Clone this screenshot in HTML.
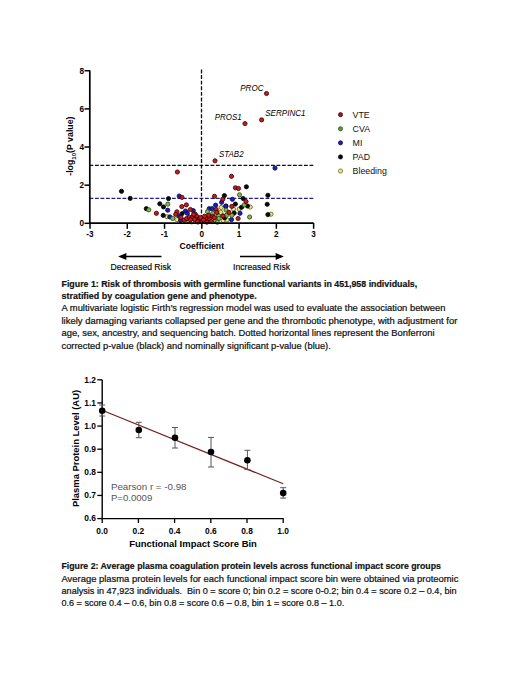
<!DOCTYPE html>
<html><head><meta charset="utf-8"><style>
html,body{margin:0;padding:0;background:#fff;width:520px;height:673px;overflow:hidden;}
svg{display:block;font-family:"Liberation Sans",sans-serif;}
</style></head><body>
<svg width="520" height="673" viewBox="0 0 520 673">
<line x1="89.5" y1="165.4" x2="313.6" y2="165.4" stroke="#111" stroke-width="1.4" stroke-dasharray="3.8 1.7"/>
<line x1="89.5" y1="198.4" x2="313.6" y2="198.4" stroke="#1e1e9a" stroke-width="1.4" stroke-dasharray="3.8 1.7"/>
<line x1="201.5" y1="69.5" x2="201.5" y2="223" stroke="#111" stroke-width="1.3" stroke-dasharray="3.9 1.7"/>
<circle cx="271.0" cy="214.2" r="2.1" fill="#eaea7c" stroke="#5a5a18" stroke-width="0.8"/>
<circle cx="250.2" cy="207.0" r="2.1" fill="#eaea7c" stroke="#5a5a18" stroke-width="0.8"/>
<circle cx="167.1" cy="216.7" r="2.1" fill="#eaea7c" stroke="#5a5a18" stroke-width="0.8"/>
<circle cx="233.5" cy="209.2" r="2.1" fill="#eaea7c" stroke="#5a5a18" stroke-width="0.8"/>
<circle cx="239.2" cy="209.2" r="2.1" fill="#eaea7c" stroke="#5a5a18" stroke-width="0.8"/>
<circle cx="176.9" cy="219.6" r="2.1" fill="#eaea7c" stroke="#5a5a18" stroke-width="0.8"/>
<circle cx="191.6" cy="221.9" r="2.1" fill="#eaea7c" stroke="#5a5a18" stroke-width="0.8"/>
<circle cx="221.1" cy="207.5" r="2.1" fill="#eaea7c" stroke="#5a5a18" stroke-width="0.8"/>
<circle cx="220.8" cy="212.4" r="2.1" fill="#eaea7c" stroke="#5a5a18" stroke-width="0.8"/>
<circle cx="227.1" cy="219.9" r="2.1" fill="#eaea7c" stroke="#5a5a18" stroke-width="0.8"/>
<circle cx="223.1" cy="220.5" r="2.1" fill="#eaea7c" stroke="#5a5a18" stroke-width="0.8"/>
<circle cx="246.4" cy="186.8" r="2.1" fill="#0a0a0a" stroke="#000000" stroke-width="0.8"/>
<circle cx="121.5" cy="191.3" r="2.1" fill="#0a0a0a" stroke="#000000" stroke-width="0.8"/>
<circle cx="130.2" cy="198.4" r="2.1" fill="#0a0a0a" stroke="#000000" stroke-width="0.8"/>
<circle cx="168.5" cy="198.6" r="2.1" fill="#0a0a0a" stroke="#000000" stroke-width="0.8"/>
<circle cx="224.4" cy="195.6" r="2.1" fill="#0a0a0a" stroke="#000000" stroke-width="0.8"/>
<circle cx="243.1" cy="198.5" r="2.1" fill="#0a0a0a" stroke="#000000" stroke-width="0.8"/>
<circle cx="267.9" cy="195.3" r="2.1" fill="#0a0a0a" stroke="#000000" stroke-width="0.8"/>
<circle cx="267.2" cy="204.3" r="2.1" fill="#0a0a0a" stroke="#000000" stroke-width="0.8"/>
<circle cx="267.9" cy="214.6" r="2.1" fill="#0a0a0a" stroke="#000000" stroke-width="0.8"/>
<circle cx="247.5" cy="206.0" r="2.1" fill="#0a0a0a" stroke="#000000" stroke-width="0.8"/>
<circle cx="146.3" cy="208.7" r="2.1" fill="#0a0a0a" stroke="#000000" stroke-width="0.8"/>
<circle cx="159.8" cy="203.8" r="2.1" fill="#0a0a0a" stroke="#000000" stroke-width="0.8"/>
<circle cx="163.5" cy="206.9" r="2.1" fill="#0a0a0a" stroke="#000000" stroke-width="0.8"/>
<circle cx="163.2" cy="215.4" r="2.1" fill="#0a0a0a" stroke="#000000" stroke-width="0.8"/>
<circle cx="235.4" cy="204.1" r="2.1" fill="#0a0a0a" stroke="#000000" stroke-width="0.8"/>
<circle cx="241.5" cy="207.3" r="2.1" fill="#0a0a0a" stroke="#000000" stroke-width="0.8"/>
<circle cx="234.2" cy="213.1" r="2.1" fill="#0a0a0a" stroke="#000000" stroke-width="0.8"/>
<circle cx="182.1" cy="213.6" r="2.1" fill="#0a0a0a" stroke="#000000" stroke-width="0.8"/>
<circle cx="226.0" cy="206.1" r="2.1" fill="#0a0a0a" stroke="#000000" stroke-width="0.8"/>
<circle cx="224.6" cy="217.8" r="2.1" fill="#0a0a0a" stroke="#000000" stroke-width="0.8"/>
<circle cx="275.0" cy="168.1" r="2.1" fill="#1c1cc8" stroke="#05053a" stroke-width="0.8"/>
<circle cx="179.2" cy="196.0" r="2.1" fill="#1c1cc8" stroke="#05053a" stroke-width="0.8"/>
<circle cx="232.4" cy="199.3" r="2.1" fill="#1c1cc8" stroke="#05053a" stroke-width="0.8"/>
<circle cx="167.7" cy="210.2" r="2.1" fill="#1c1cc8" stroke="#05053a" stroke-width="0.8"/>
<circle cx="169.8" cy="216.9" r="2.1" fill="#1c1cc8" stroke="#05053a" stroke-width="0.8"/>
<circle cx="240.0" cy="213.3" r="2.1" fill="#1c1cc8" stroke="#05053a" stroke-width="0.8"/>
<circle cx="231.5" cy="219.6" r="2.1" fill="#1c1cc8" stroke="#05053a" stroke-width="0.8"/>
<circle cx="185.5" cy="211.0" r="2.1" fill="#1c1cc8" stroke="#05053a" stroke-width="0.8"/>
<circle cx="187.3" cy="213.3" r="2.1" fill="#1c1cc8" stroke="#05053a" stroke-width="0.8"/>
<circle cx="193.3" cy="210.7" r="2.1" fill="#1c1cc8" stroke="#05053a" stroke-width="0.8"/>
<circle cx="179.2" cy="215.9" r="2.1" fill="#1c1cc8" stroke="#05053a" stroke-width="0.8"/>
<circle cx="180.6" cy="220.5" r="2.1" fill="#1c1cc8" stroke="#05053a" stroke-width="0.8"/>
<circle cx="221.6" cy="202.3" r="2.1" fill="#1c1cc8" stroke="#05053a" stroke-width="0.8"/>
<circle cx="215.6" cy="205.2" r="2.1" fill="#1c1cc8" stroke="#05053a" stroke-width="0.8"/>
<circle cx="209.2" cy="208.7" r="2.1" fill="#1c1cc8" stroke="#05053a" stroke-width="0.8"/>
<circle cx="212.1" cy="208.7" r="2.1" fill="#1c1cc8" stroke="#05053a" stroke-width="0.8"/>
<circle cx="225.7" cy="206.2" r="2.1" fill="#1c1cc8" stroke="#05053a" stroke-width="0.8"/>
<circle cx="239.5" cy="194.8" r="2.1" fill="#80bc44" stroke="#2a4010" stroke-width="0.8"/>
<circle cx="249.6" cy="217.0" r="2.1" fill="#80bc44" stroke="#2a4010" stroke-width="0.8"/>
<circle cx="148.8" cy="209.8" r="2.1" fill="#80bc44" stroke="#2a4010" stroke-width="0.8"/>
<circle cx="167.8" cy="204.1" r="2.1" fill="#80bc44" stroke="#2a4010" stroke-width="0.8"/>
<circle cx="172.7" cy="218.5" r="2.1" fill="#80bc44" stroke="#2a4010" stroke-width="0.8"/>
<circle cx="244.2" cy="205.0" r="2.1" fill="#80bc44" stroke="#2a4010" stroke-width="0.8"/>
<circle cx="231.9" cy="215.4" r="2.1" fill="#80bc44" stroke="#2a4010" stroke-width="0.8"/>
<circle cx="188.7" cy="221.4" r="2.1" fill="#80bc44" stroke="#2a4010" stroke-width="0.8"/>
<circle cx="226.0" cy="210.1" r="2.1" fill="#80bc44" stroke="#2a4010" stroke-width="0.8"/>
<circle cx="207.5" cy="211.6" r="2.1" fill="#80bc44" stroke="#2a4010" stroke-width="0.8"/>
<circle cx="218.5" cy="215.9" r="2.1" fill="#80bc44" stroke="#2a4010" stroke-width="0.8"/>
<circle cx="219.0" cy="218.5" r="2.1" fill="#80bc44" stroke="#2a4010" stroke-width="0.8"/>
<circle cx="226.5" cy="215.3" r="2.1" fill="#80bc44" stroke="#2a4010" stroke-width="0.8"/>
<circle cx="215.3" cy="220.5" r="2.1" fill="#80bc44" stroke="#2a4010" stroke-width="0.8"/>
<circle cx="217.3" cy="222.2" r="2.1" fill="#80bc44" stroke="#2a4010" stroke-width="0.8"/>
<circle cx="212.8" cy="213.4" r="2.1" fill="#80bc44" stroke="#2a4010" stroke-width="0.8"/>
<circle cx="266.5" cy="93.5" r="2.1" fill="#d01818" stroke="#2a0000" stroke-width="0.8"/>
<circle cx="245.0" cy="123.6" r="2.1" fill="#d01818" stroke="#2a0000" stroke-width="0.8"/>
<circle cx="261.6" cy="119.9" r="2.1" fill="#d01818" stroke="#2a0000" stroke-width="0.8"/>
<circle cx="215.0" cy="160.8" r="2.1" fill="#d01818" stroke="#2a0000" stroke-width="0.8"/>
<circle cx="177.4" cy="172.0" r="2.1" fill="#d01818" stroke="#2a0000" stroke-width="0.8"/>
<circle cx="231.5" cy="176.3" r="2.1" fill="#d01818" stroke="#2a0000" stroke-width="0.8"/>
<circle cx="235.4" cy="187.8" r="2.1" fill="#d01818" stroke="#2a0000" stroke-width="0.8"/>
<circle cx="238.5" cy="188.5" r="2.1" fill="#d01818" stroke="#2a0000" stroke-width="0.8"/>
<circle cx="182.0" cy="197.4" r="2.1" fill="#d01818" stroke="#2a0000" stroke-width="0.8"/>
<circle cx="214.5" cy="196.3" r="2.1" fill="#d01818" stroke="#2a0000" stroke-width="0.8"/>
<circle cx="246.0" cy="201.5" r="2.1" fill="#d01818" stroke="#2a0000" stroke-width="0.8"/>
<circle cx="156.4" cy="213.3" r="2.1" fill="#d01818" stroke="#2a0000" stroke-width="0.8"/>
<circle cx="231.8" cy="206.4" r="2.1" fill="#d01818" stroke="#2a0000" stroke-width="0.8"/>
<circle cx="238.1" cy="218.5" r="2.1" fill="#d01818" stroke="#2a0000" stroke-width="0.8"/>
<circle cx="181.8" cy="206.6" r="2.1" fill="#d01818" stroke="#2a0000" stroke-width="0.8"/>
<circle cx="186.4" cy="204.9" r="2.1" fill="#d01818" stroke="#2a0000" stroke-width="0.8"/>
<circle cx="190.4" cy="209.5" r="2.1" fill="#d01818" stroke="#2a0000" stroke-width="0.8"/>
<circle cx="176.9" cy="211.8" r="2.1" fill="#d01818" stroke="#2a0000" stroke-width="0.8"/>
<circle cx="175.7" cy="214.4" r="2.1" fill="#d01818" stroke="#2a0000" stroke-width="0.8"/>
<circle cx="180.9" cy="217.3" r="2.1" fill="#d01818" stroke="#2a0000" stroke-width="0.8"/>
<circle cx="184.1" cy="220.2" r="2.1" fill="#d01818" stroke="#2a0000" stroke-width="0.8"/>
<circle cx="186.7" cy="218.5" r="2.1" fill="#d01818" stroke="#2a0000" stroke-width="0.8"/>
<circle cx="189.3" cy="217.3" r="2.1" fill="#d01818" stroke="#2a0000" stroke-width="0.8"/>
<circle cx="192.5" cy="217.3" r="2.1" fill="#d01818" stroke="#2a0000" stroke-width="0.8"/>
<circle cx="195.4" cy="214.4" r="2.1" fill="#d01818" stroke="#2a0000" stroke-width="0.8"/>
<circle cx="197.1" cy="216.7" r="2.1" fill="#d01818" stroke="#2a0000" stroke-width="0.8"/>
<circle cx="196.2" cy="219.9" r="2.1" fill="#d01818" stroke="#2a0000" stroke-width="0.8"/>
<circle cx="199.4" cy="219.0" r="2.1" fill="#d01818" stroke="#2a0000" stroke-width="0.8"/>
<circle cx="201.7" cy="221.4" r="2.1" fill="#d01818" stroke="#2a0000" stroke-width="0.8"/>
<circle cx="198.2" cy="221.9" r="2.1" fill="#d01818" stroke="#2a0000" stroke-width="0.8"/>
<circle cx="193.6" cy="214.4" r="2.1" fill="#d01818" stroke="#2a0000" stroke-width="0.8"/>
<circle cx="222.8" cy="199.2" r="2.1" fill="#d01818" stroke="#2a0000" stroke-width="0.8"/>
<circle cx="228.9" cy="212.4" r="2.1" fill="#d01818" stroke="#2a0000" stroke-width="0.8"/>
<circle cx="216.2" cy="209.5" r="2.1" fill="#d01818" stroke="#2a0000" stroke-width="0.8"/>
<circle cx="216.7" cy="212.4" r="2.1" fill="#d01818" stroke="#2a0000" stroke-width="0.8"/>
<circle cx="208.7" cy="215.3" r="2.1" fill="#d01818" stroke="#2a0000" stroke-width="0.8"/>
<circle cx="212.7" cy="216.5" r="2.1" fill="#d01818" stroke="#2a0000" stroke-width="0.8"/>
<circle cx="205.8" cy="218.2" r="2.1" fill="#d01818" stroke="#2a0000" stroke-width="0.8"/>
<circle cx="209.8" cy="219.4" r="2.1" fill="#d01818" stroke="#2a0000" stroke-width="0.8"/>
<circle cx="206.9" cy="222.2" r="2.1" fill="#d01818" stroke="#2a0000" stroke-width="0.8"/>
<circle cx="223.1" cy="215.9" r="2.1" fill="#d01818" stroke="#2a0000" stroke-width="0.8"/>
<circle cx="214.4" cy="217.6" r="2.1" fill="#d01818" stroke="#2a0000" stroke-width="0.8"/>
<circle cx="194.5" cy="219.5" r="2.1" fill="#d01818" stroke="#2a0000" stroke-width="0.8"/>
<circle cx="203.5" cy="219.8" r="2.1" fill="#d01818" stroke="#2a0000" stroke-width="0.8"/>
<circle cx="200.5" cy="217.5" r="2.1" fill="#d01818" stroke="#2a0000" stroke-width="0.8"/>
<circle cx="197.5" cy="221.8" r="2.1" fill="#d01818" stroke="#2a0000" stroke-width="0.8"/>
<circle cx="190.5" cy="219.8" r="2.1" fill="#d01818" stroke="#2a0000" stroke-width="0.8"/>
<circle cx="211.2" cy="221.6" r="2.1" fill="#d01818" stroke="#2a0000" stroke-width="0.8"/>
<circle cx="204.6" cy="216.2" r="2.1" fill="#d01818" stroke="#2a0000" stroke-width="0.8"/>
<path d="M89.8 70.4 V223.2 H313.6" fill="none" stroke="#000" stroke-width="1.7"/>
<line x1="84.5" y1="223.30" x2="90" y2="223.30" stroke="#000" stroke-width="1.5"/>
<text x="84" y="226.10" text-anchor="end" font-size="8.2" font-weight="bold" font-family="Liberation Sans, sans-serif">0</text>
<line x1="84.5" y1="185.16" x2="90" y2="185.16" stroke="#000" stroke-width="1.5"/>
<text x="84" y="187.96" text-anchor="end" font-size="8.2" font-weight="bold" font-family="Liberation Sans, sans-serif">2</text>
<line x1="84.5" y1="147.02" x2="90" y2="147.02" stroke="#000" stroke-width="1.5"/>
<text x="84" y="149.82" text-anchor="end" font-size="8.2" font-weight="bold" font-family="Liberation Sans, sans-serif">4</text>
<line x1="84.5" y1="108.88" x2="90" y2="108.88" stroke="#000" stroke-width="1.5"/>
<text x="84" y="111.68" text-anchor="end" font-size="8.2" font-weight="bold" font-family="Liberation Sans, sans-serif">6</text>
<line x1="84.5" y1="70.74" x2="90" y2="70.74" stroke="#000" stroke-width="1.5"/>
<text x="84" y="73.54" text-anchor="end" font-size="8.2" font-weight="bold" font-family="Liberation Sans, sans-serif">8</text>
<line x1="90.00" y1="223" x2="90.00" y2="228.8" stroke="#000" stroke-width="1.5"/>
<text x="89.80" y="236.8" text-anchor="middle" font-size="8.2" font-weight="bold" font-family="Liberation Sans, sans-serif">-3</text>
<line x1="127.27" y1="223" x2="127.27" y2="228.8" stroke="#000" stroke-width="1.5"/>
<text x="127.07" y="236.8" text-anchor="middle" font-size="8.2" font-weight="bold" font-family="Liberation Sans, sans-serif">-2</text>
<line x1="164.54" y1="223" x2="164.54" y2="228.8" stroke="#000" stroke-width="1.5"/>
<text x="164.34" y="236.8" text-anchor="middle" font-size="8.2" font-weight="bold" font-family="Liberation Sans, sans-serif">-1</text>
<line x1="201.81" y1="223" x2="201.81" y2="228.8" stroke="#000" stroke-width="1.5"/>
<text x="201.81" y="236.8" text-anchor="middle" font-size="8.2" font-weight="bold" font-family="Liberation Sans, sans-serif">0</text>
<line x1="239.08" y1="223" x2="239.08" y2="228.8" stroke="#000" stroke-width="1.5"/>
<text x="239.08" y="236.8" text-anchor="middle" font-size="8.2" font-weight="bold" font-family="Liberation Sans, sans-serif">1</text>
<line x1="276.35" y1="223" x2="276.35" y2="228.8" stroke="#000" stroke-width="1.5"/>
<text x="276.35" y="236.8" text-anchor="middle" font-size="8.2" font-weight="bold" font-family="Liberation Sans, sans-serif">2</text>
<line x1="313.62" y1="223" x2="313.62" y2="228.8" stroke="#000" stroke-width="1.5"/>
<text x="313.62" y="236.8" text-anchor="middle" font-size="8.2" font-weight="bold" font-family="Liberation Sans, sans-serif">3</text>
<text x="179.5" y="248.6" font-size="8.6" font-weight="bold" font-family="Liberation Sans, sans-serif" textLength="44.5" lengthAdjust="spacingAndGlyphs">Coefficient</text>
<text transform="translate(73.4 175.8) rotate(-90)" font-size="8.8" font-weight="bold" font-family="Liberation Sans, sans-serif">-log<tspan font-size="6" dy="2.1">10</tspan><tspan dy="-2.1">(P value)</tspan></text>
<text x="240.2" y="90.5" font-size="8.7" font-style="italic" fill="#000" font-family="Liberation Sans, sans-serif" textLength="23.3" lengthAdjust="spacingAndGlyphs">PROC</text>
<text x="214.8" y="120.4" font-size="8.7" font-style="italic" fill="#000" font-family="Liberation Sans, sans-serif" textLength="26.9" lengthAdjust="spacingAndGlyphs">PROS1</text>
<text x="265.2" y="115.6" font-size="8.7" font-style="italic" fill="#000" font-family="Liberation Sans, sans-serif" textLength="40.4" lengthAdjust="spacingAndGlyphs">SERPINC1</text>
<text x="219" y="157.3" font-size="8.7" font-style="italic" fill="#000" font-family="Liberation Sans, sans-serif" textLength="24.6" lengthAdjust="spacingAndGlyphs">STAB2</text>
<circle cx="340.5" cy="114.70" r="2.1" fill="#a81616" stroke="#2a0000" stroke-width="0.7"/>
<text x="352.6" y="117.80" font-size="8.8" fill="#111" font-family="Liberation Sans, sans-serif">VTE</text>
<circle cx="340.5" cy="128.78" r="2.1" fill="#5a9a3a" stroke="#2a4010" stroke-width="0.7"/>
<text x="352.6" y="131.88" font-size="8.8" fill="#111" font-family="Liberation Sans, sans-serif">CVA</text>
<circle cx="340.5" cy="142.86" r="2.1" fill="#1c1cc8" stroke="#05053a" stroke-width="0.7"/>
<text x="352.6" y="145.96" font-size="8.8" fill="#111" font-family="Liberation Sans, sans-serif">MI</text>
<circle cx="340.5" cy="156.94" r="2.1" fill="#0a0a0a" stroke="#000000" stroke-width="0.7"/>
<text x="352.6" y="160.04" font-size="8.8" fill="#111" font-family="Liberation Sans, sans-serif">PAD</text>
<circle cx="340.5" cy="171.02" r="2.1" fill="#eaea7c" stroke="#5a5a18" stroke-width="0.7"/>
<text x="352.6" y="174.12" font-size="8.8" fill="#111" font-family="Liberation Sans, sans-serif">Bleeding</text>
<line x1="124" y1="256.5" x2="161.5" y2="256.5" stroke="#000" stroke-width="1.3"/>
<path d="M118.2 256.5 L126.4 252.9 L126.4 260.1 Z" fill="#000"/>
<line x1="240" y1="256.5" x2="277.5" y2="256.5" stroke="#000" stroke-width="1.3"/>
<path d="M283.8 256.5 L275.6 252.9 L275.6 260.1 Z" fill="#000"/>
<text x="110.5" y="269.9" font-size="8.5" fill="#000" stroke="#000" stroke-width="0.15" font-family="Liberation Sans, sans-serif" textLength="60.5" lengthAdjust="spacingAndGlyphs">Decreased Risk</text>
<text x="233.1" y="269.9" font-size="8.5" fill="#000" stroke="#000" stroke-width="0.15" font-family="Liberation Sans, sans-serif" textLength="56.9" lengthAdjust="spacingAndGlyphs">Increased Risk</text>
<path d="M102.2 379.8 V518.6 H283.4" fill="none" stroke="#000" stroke-width="1.4"/>
<line x1="97.3" y1="379.80" x2="102.2" y2="379.80" stroke="#000" stroke-width="1.3"/>
<text x="95.9" y="382.60" text-anchor="end" font-size="8.4" font-weight="bold" font-family="Liberation Sans, sans-serif">1.2</text>
<line x1="97.3" y1="402.93" x2="102.2" y2="402.93" stroke="#000" stroke-width="1.3"/>
<text x="95.9" y="405.73" text-anchor="end" font-size="8.4" font-weight="bold" font-family="Liberation Sans, sans-serif">1.1</text>
<line x1="97.3" y1="426.06" x2="102.2" y2="426.06" stroke="#000" stroke-width="1.3"/>
<text x="95.9" y="428.86" text-anchor="end" font-size="8.4" font-weight="bold" font-family="Liberation Sans, sans-serif">1.0</text>
<line x1="97.3" y1="449.19" x2="102.2" y2="449.19" stroke="#000" stroke-width="1.3"/>
<text x="95.9" y="451.99" text-anchor="end" font-size="8.4" font-weight="bold" font-family="Liberation Sans, sans-serif">0.9</text>
<line x1="97.3" y1="472.32" x2="102.2" y2="472.32" stroke="#000" stroke-width="1.3"/>
<text x="95.9" y="475.12" text-anchor="end" font-size="8.4" font-weight="bold" font-family="Liberation Sans, sans-serif">0.8</text>
<line x1="97.3" y1="495.45" x2="102.2" y2="495.45" stroke="#000" stroke-width="1.3"/>
<text x="95.9" y="498.25" text-anchor="end" font-size="8.4" font-weight="bold" font-family="Liberation Sans, sans-serif">0.7</text>
<line x1="97.3" y1="518.58" x2="102.2" y2="518.58" stroke="#000" stroke-width="1.3"/>
<text x="95.9" y="521.38" text-anchor="end" font-size="8.4" font-weight="bold" font-family="Liberation Sans, sans-serif">0.6</text>
<line x1="102.20" y1="518.3" x2="102.20" y2="523" stroke="#000" stroke-width="1.3"/>
<text x="102.20" y="533.6" text-anchor="middle" font-size="8.4" font-weight="bold" font-family="Liberation Sans, sans-serif">0.0</text>
<line x1="138.40" y1="518.3" x2="138.40" y2="523" stroke="#000" stroke-width="1.3"/>
<text x="138.40" y="533.6" text-anchor="middle" font-size="8.4" font-weight="bold" font-family="Liberation Sans, sans-serif">0.2</text>
<line x1="174.60" y1="518.3" x2="174.60" y2="523" stroke="#000" stroke-width="1.3"/>
<text x="174.60" y="533.6" text-anchor="middle" font-size="8.4" font-weight="bold" font-family="Liberation Sans, sans-serif">0.4</text>
<line x1="210.80" y1="518.3" x2="210.80" y2="523" stroke="#000" stroke-width="1.3"/>
<text x="210.80" y="533.6" text-anchor="middle" font-size="8.4" font-weight="bold" font-family="Liberation Sans, sans-serif">0.6</text>
<line x1="247.00" y1="518.3" x2="247.00" y2="523" stroke="#000" stroke-width="1.3"/>
<text x="247.00" y="533.6" text-anchor="middle" font-size="8.4" font-weight="bold" font-family="Liberation Sans, sans-serif">0.8</text>
<line x1="283.20" y1="518.3" x2="283.20" y2="523" stroke="#000" stroke-width="1.3"/>
<text x="283.20" y="533.6" text-anchor="middle" font-size="8.4" font-weight="bold" font-family="Liberation Sans, sans-serif">1.0</text>
<text x="129.2" y="546.8" font-size="9.4" font-weight="bold" font-family="Liberation Sans, sans-serif" textLength="127.7" lengthAdjust="spacingAndGlyphs">Functional Impact Score Bin</text>
<text transform="translate(78.6 507.1) rotate(-90)" font-size="9.5" font-weight="bold" font-family="Liberation Sans, sans-serif" textLength="117.2" lengthAdjust="spacingAndGlyphs">Plasma Protein Level (AU)</text>
<line x1="102.2" y1="410.2" x2="283.2" y2="483.8" stroke="#742020" stroke-width="1.2"/>
<path d="M102.2 405 V416 M99.2 405 H105.2 M99.2 416 H105.2" stroke="#555" stroke-width="1" fill="none"/>
<circle cx="102.2" cy="410.8" r="3.3" fill="#000"/>
<path d="M138.8 422.3 V437.7 M135.8 422.3 H141.8 M135.8 437.7 H141.8" stroke="#555" stroke-width="1" fill="none"/>
<circle cx="138.8" cy="430" r="3.3" fill="#000"/>
<path d="M175 427.5 V448 M172 427.5 H178 M172 448 H178" stroke="#555" stroke-width="1" fill="none"/>
<circle cx="175" cy="437.7" r="3.3" fill="#000"/>
<path d="M211 437.4 V467 M208 437.4 H214 M208 467 H214" stroke="#555" stroke-width="1" fill="none"/>
<circle cx="211" cy="452" r="3.3" fill="#000"/>
<path d="M247.4 450.3 V469.6 M244.4 450.3 H250.4 M244.4 469.6 H250.4" stroke="#555" stroke-width="1" fill="none"/>
<circle cx="247.4" cy="460.3" r="3.3" fill="#000"/>
<path d="M283.2 487.7 V498.1 M280.2 487.7 H286.2 M280.2 498.1 H286.2" stroke="#555" stroke-width="1" fill="none"/>
<circle cx="283.2" cy="493.1" r="3.3" fill="#000"/>
<text x="110.9" y="489.8" font-size="9.5" fill="#555" font-family="Liberation Sans, sans-serif" textLength="75.6" lengthAdjust="spacingAndGlyphs">Pearson r = -0.98</text>
<text x="110.9" y="500.6" font-size="9.5" fill="#555" font-family="Liberation Sans, sans-serif" textLength="41.4" lengthAdjust="spacingAndGlyphs">P=0.0009</text>
<text x="61.5" y="286.5" font-weight="bold" font-size="9.4" stroke="#111" stroke-width="0.2" fill="#111" font-family="Liberation Sans, sans-serif" textLength="355.7" lengthAdjust="spacingAndGlyphs" xml:space="preserve">Figure 1: Risk of thrombosis with germline functional variants in 451,958 individuals,</text>
<text x="61.5" y="298.8" font-weight="bold" font-size="9.4" stroke="#111" stroke-width="0.2" fill="#111" font-family="Liberation Sans, sans-serif" textLength="195.2" lengthAdjust="spacingAndGlyphs" xml:space="preserve">stratified by coagulation gene and phenotype.</text>
<text x="61.5" y="311.2" stroke="#111" stroke-width="0.22" font-size="9.1" fill="#111" font-family="Liberation Sans, sans-serif" textLength="383.9" lengthAdjust="spacingAndGlyphs" xml:space="preserve">A multivariate logistic Firth’s regression model was used to evaluate the association between</text>
<text x="61.5" y="323.9" stroke="#111" stroke-width="0.22" font-size="9.1" fill="#111" font-family="Liberation Sans, sans-serif" textLength="395.8" lengthAdjust="spacingAndGlyphs" xml:space="preserve">likely damaging variants collapsed per gene and the thrombotic phenotype, with adjustment for</text>
<text x="61.5" y="336.2" stroke="#111" stroke-width="0.22" font-size="9.1" fill="#111" font-family="Liberation Sans, sans-serif" textLength="373.0" lengthAdjust="spacingAndGlyphs" xml:space="preserve">age, sex, ancestry, and sequencing batch. Dotted horizontal lines represent the Bonferroni</text>
<text x="61.5" y="348.5" stroke="#111" stroke-width="0.22" font-size="9.1" fill="#111" font-family="Liberation Sans, sans-serif" textLength="269.3" lengthAdjust="spacingAndGlyphs" xml:space="preserve">corrected p-value (black) and nominally significant p-value (blue).</text>
<text x="61.5" y="569.2" font-weight="bold" font-size="9.4" stroke="#111" stroke-width="0.2" fill="#111" font-family="Liberation Sans, sans-serif" textLength="379.4" lengthAdjust="spacingAndGlyphs" xml:space="preserve">Figure 2: Average plasma coagulation protein levels across functional impact score groups</text>
<text x="61.5" y="581.5" stroke="#111" stroke-width="0.22" font-size="9.1" fill="#111" font-family="Liberation Sans, sans-serif" textLength="396.9" lengthAdjust="spacingAndGlyphs" xml:space="preserve">Average plasma protein levels for each functional impact score bin were obtained via proteomic</text>
<text x="61.5" y="593.5" stroke="#111" stroke-width="0.22" font-size="9.1" fill="#111" font-family="Liberation Sans, sans-serif" textLength="395.1" lengthAdjust="spacingAndGlyphs" xml:space="preserve">analysis in 47,923 individuals.  Bin 0 = score 0; bin 0.2 = score 0-0.2; bin 0.4 = score 0.2 – 0.4, bin</text>
<text x="61.5" y="605.8" stroke="#111" stroke-width="0.22" font-size="9.1" fill="#111" font-family="Liberation Sans, sans-serif" textLength="282.7" lengthAdjust="spacingAndGlyphs" xml:space="preserve">0.6 = score 0.4 – 0.6, bin 0.8 = score 0.6 – 0.8, bin 1 = score 0.8 – 1.0.</text>
</svg>
</body></html>
